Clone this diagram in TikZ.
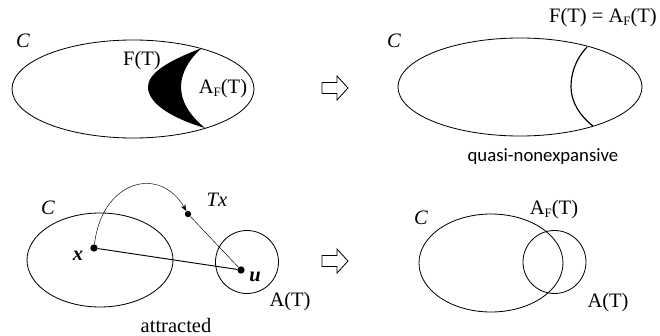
\documentclass[tikz,border=0pt]{standalone}
\usepackage{fontspec}
\setmainfont{Liberation Serif}
\newfontfamily\captionsans{Carlito}
\usetikzlibrary{arrows.meta, positioning}

\newcommand{\AFT}{A\raisebox{-0.25ex}{\fontsize{11}{11}\selectfont F}(T)}

\begin{document}
\begin{tikzpicture}[x=0.03cm, y=-0.03cm,
  lbl/.style={font=\fontsize{17.5}{19}\selectfont, inner sep=0pt},
  setname/.style={font=\fontsize{17.5}{19}\selectfont\itshape, inner sep=0pt},
  ptname/.style={font=\fontsize{17.5}{19}\selectfont\bfseries\itshape, inner sep=0pt},
  caption/.style={font=\captionsans\fontsize{16}{18}\selectfont, inner sep=0pt},
  dot/.style={circle, fill=black, inner sep=0pt, minimum size=0.22cm},
  hollowarrow/.style={line width=0.7pt, line join=miter},
  rim/.style={line width=0.7pt},
  arr/.style={-{Stealth[length=2mm]}, thin}
]
\useasboundingbox (0,0) rectangle (660,336);

% top left: F(T) inside A_F(T)
\draw[rim] (133,89) ellipse [x radius=121, y radius=49];
\fill (202,48) .. controls (165,62) and (148,74) .. (148,87)
  .. controls (148,102) and (168,117) .. (205,128)
  .. controls (188,114) and (181,100) .. (181,87)
  .. controls (181,73) and (189,59) .. (202,48) -- cycle;
\node[setname] (C1) at (23,41) {C};
\node[lbl] (F1) at (142,61) {F(T)};
\node[lbl] (AF1) at (223,89) {\AFT};
\draw[hollowarrow, shift={(322,88)}] (0,-5.5) -- (15,-5.5) -- (15,-12) -- (26,0)
  -- (15,12) -- (15,5.5) -- (0,5.5) -- cycle;

% top right: quasi-nonexpansive
\draw[rim] (520,87) ellipse [x radius=122, y radius=49];
\draw[line width=1pt] (587,47) .. controls (575,60) and (571,74) .. (571,87)
  .. controls (571,102) and (580,116) .. (593,126);
\node[setname] (C2) at (394,41) {C};
\node[lbl] (eq) at (603,18) {F(T) = \AFT};
\node[caption] (qn) at (543,157) {quasi-nonexpansive};

% bottom left: attracted
\draw[rim] (100,260) ellipse [x radius=73, y radius=47];
\draw[rim] (247,262) circle [radius=31.5];
\node[dot] (x) at (94,248) {};
\node[dot, minimum size=0.19cm] (Tx) at (188,214) {};
\node[dot] (u) at (241,270) {};
\draw[line width=0.8pt] (x) -- (u);
\draw[thin] (Tx) -- (u);
\draw[arr] (x) .. controls (102,180) and (160,165) .. (Tx);
\node[setname] (C3) at (48,208) {C};
\node[ptname] (xl) at (78,256) {x};
\node[setname] (Txl) at (217,200) {Tx};
\node[ptname] (ul) at (255,277) {u};
\node[lbl] (A1) at (290,302) {A(T)};
\node[lbl] (att) at (176,325) {attracted};
\draw[hollowarrow, shift={(322,261)}] (0,-5.5) -- (15,-5.5) -- (15,-12) -- (26,0)
  -- (15,12) -- (15,5.5) -- (0,5.5) -- cycle;

% bottom right
\draw[rim] (491,263) ellipse [x radius=72, y radius=49];
\draw[rim] (554.5,262) circle [radius=31.5];
\node[setname] (C4) at (421,218) {C};
\node[lbl] (AF2) at (554,210) {\AFT};
\node[lbl] (A2) at (608,303) {A(T)};
\end{tikzpicture}
\end{document}
